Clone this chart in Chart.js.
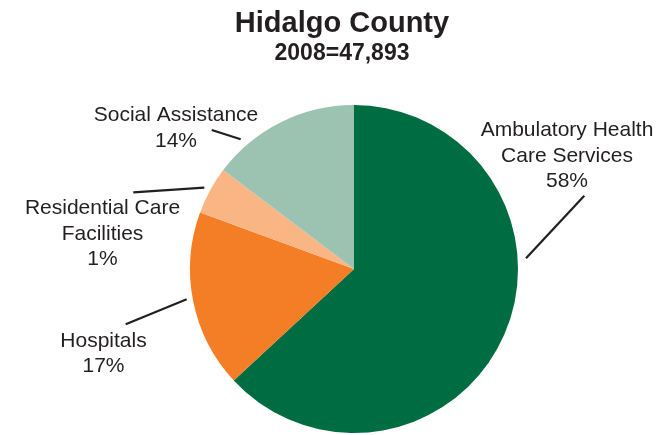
<!DOCTYPE html>
<html>
<head>
<meta charset="utf-8">
<script src="https://cdn.jsdelivr.net/npm/chart.js@4/dist/chart.umd.min.js"></script>
<style>
  html, body { margin: 0; padding: 0; background: #fff; }
  canvas { display: block; }
</style>
</head>
<body>
<canvas id="chart" width="671" height="435"></canvas>
<script>
// Datos (ángulos de los sectores)
const categories = ['Ambulatory Health Care Services', 'Hospitals', 'Residential Care Facilities', 'Social Assistance'];
const values = [63.1, 17.5, 4.7, 14.7];
const labelLines = [
  ['Ambulatory Health', 'Care Services', '58%'],
  ['Hospitals', '17%'],
  ['Residential Care', 'Facilities', '1%'],
  ['Social Assistance', '14%']
];
const sliceColors = ['#006c42', '#f47e25', '#f9b584', '#9cc3b2'];
const titleText = 'Hidalgo County';
const subtitleText = '2008=47,893';

// Posición de etiquetas y líneas guía, relativa al centro del pastel
const labelPlacement = [
  { x: 213, y: -133, line: [172, -10.7, 230.3, -73.3] },
  { x: -250.5, y: 77.7, line: [-228.3, 55.3, -167.3, 30.3] },
  { x: -251.5, y: -55, line: [-220.7, -76.7, -149.7, -81.3] },
  { x: -178, y: -148, line: [-142.3, -139, -113.3, -129.7] }
];

const FONT = '"Liberation Sans", Arial, sans-serif';
const TEXT_COLOR = '#231f20';

const calloutPlugin = {
  id: 'callouts',
  afterDraw(chart) {
    const ctx = chart.ctx;
    const arc = chart.getDatasetMeta(0).data[0];
    const cx = arc.x, cy = arc.y;
    ctx.save();

    // títulos
    ctx.fillStyle = TEXT_COLOR;
    ctx.textAlign = 'center';
    ctx.textBaseline = 'alphabetic';
    ctx.font = 'bold 29px ' + FONT;
    ctx.fillText(titleText, 342, 32);
    ctx.font = 'bold 23px ' + FONT;
    ctx.fillText(subtitleText, 342, 60);

    // etiquetas
    ctx.font = '21px ' + FONT;
    labelPlacement.forEach((p, i) => {
      labelLines[i].forEach((t, j) => {
        ctx.fillText(t, cx + p.x, cy + p.y + j * 25.5);
      });
      const l = p.line;
      ctx.beginPath();
      ctx.moveTo(cx + l[0], cy + l[1]);
      ctx.lineTo(cx + l[2], cy + l[3]);
      ctx.lineWidth = 2.2;
      ctx.strokeStyle = '#231f20';
      ctx.stroke();
    });
    ctx.restore();
  }
};

new Chart(document.getElementById('chart'), {
  type: 'pie',
  data: {
    labels: categories,
    datasets: [{
      data: values,
      backgroundColor: sliceColors,
      borderWidth: 0,
      hoverOffset: 0
    }]
  },
  options: {
    responsive: false,
    animation: false,
    devicePixelRatio: 1,
    layout: { padding: { left: 190, right: 153, top: 105, bottom: 2 } },
    plugins: {
      legend: { display: false },
      tooltip: { enabled: false },
      title: { display: false }
    }
  },
  plugins: [calloutPlugin]
});
</script>
</body>
</html>
